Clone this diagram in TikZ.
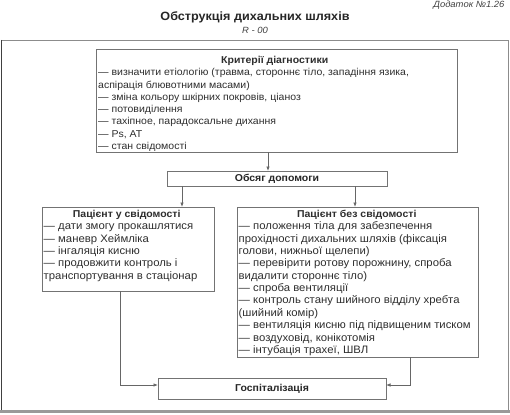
\documentclass[tikz,border=0pt]{standalone}
\usepackage{fontspec}
\setmainfont{Liberation Sans}[FakeStretch=1.05]
\usetikzlibrary{arrows.meta}
\begin{document}
\begin{tikzpicture}[x=1pt,y=-1pt,
  box/.style={draw=black!55, line width=0.9pt, fill=white, inner sep=0pt, outer sep=0pt},
  txt/.style={inner sep=0pt, align=left, anchor=north west, font=\fontsize{10}{12.3}\selectfont, text=black!82},
  txtb/.style={txt, font=\fontsize{10.8}{12.35}\selectfont},
  lbl/.style={font=\fontsize{10}{11}\selectfont\bfseries, text=black!85},
  arr/.style={draw=black!60, line width=0.7pt, -{Latex[length=4.5pt,width=3.5pt]}}]
\useasboundingbox (0,0) rectangle (510,414);
% header
\node[font=\fontsize{12}{14}\selectfont\bfseries, text=black!85] (title) at (255,17) {Обструкція дихальних шляхів};
\node[font=\fontsize{9}{11}\selectfont\itshape, text=black!75] (code) at (255,30) {R - 00};
\node[font=\fontsize{9}{11}\selectfont\itshape, text=black!75, anchor=east] (app) at (508,5) {Додаток №1.26};
% outer frame
\draw[black!45, line width=0.6pt] (1,40) -- (508,40) -- (508,411);
\draw[black!75, line width=1.2pt] (1.2,40) -- (1.2,411);
\draw[black!40, line width=2.5pt] (0,411.7) -- (510,411.7);
% boxes
\node[box, minimum width=361pt, minimum height=103pt] (crit) at (276.5,100.5) {};
\node[box, lbl, minimum width=220pt, minimum height=15pt] (obs) at (277,178.5) {Обсяг допомоги};
\node[box, minimum width=172pt, minimum height=84pt] (left) at (128,249) {};
\node[box, minimum width=241pt, minimum height=150pt] (right) at (357.5,282) {};
\node[box, lbl, minimum width=228pt, minimum height=21pt] (hosp) at (272,388.5) {Госпіталізація};
% texts
\node[txt] (crittxt) at (98,56) {\makebox[353pt][c]{\bfseries Критерії діагностики}\\
— визначити етіологію (травма, стороннє тіло, западіння язика,\\
аспірація блювотними масами)\\
— зміна кольору шкірних покровів, ціаноз\\
— потовиділення\\
— тахіпное, парадоксальне дихання\\
— Ps, АТ\\
— стан свідомості};
\node[txtb] (lefttxt) at (43.5,210) {\makebox[166pt][c]{\fontsize{10}{12}\selectfont\bfseries Пацієнт у свідомості}\\
— дати змогу прокашлятися\\
— маневр Хеймліка\\
— інгаляція кисню\\
— продовжити контроль і\\
транспортування в стаціонар};
\node[txtb] (righttxt) at (238.5,210) {\makebox[236pt][c]{\fontsize{10}{12}\selectfont\bfseries Пацієнт без свідомості}\\
— положення тіла для забезпечення\\
прохідності дихальних шляхів (фіксація\\
голови, нижньої щелепи)\\
— перевірити ротову порожнину, спроба\\
видалити стороннє тіло)\\
— спроба вентиляції\\
— контроль стану шийного відділу хребта\\
(шийний комір)\\
— вентиляція кисню під підвищеним тиском\\
— воздуховід, конікотомія\\
— інтубація трахеї, ШВЛ};
% connectors
\coordinate (c1) at (268,0);
\coordinate (c2) at (182,0);
\coordinate (c3) at (355,0);
\coordinate (c4) at (120,0);
\coordinate (c5) at (410,0);
\draw[arr] (crit.south -| c1) -- (obs.north -| c1);
\draw[arr] (obs.south -| c2) -- (left.north -| c2);
\draw[arr] (obs.south -| c3) -- (right.north -| c3);
\draw[arr] (left.south -| c4) |- ([yshift=3.5pt]hosp.west);
\draw[arr] (right.south -| c5) |- ([yshift=3.5pt]hosp.east);
\end{tikzpicture}
\end{document}
